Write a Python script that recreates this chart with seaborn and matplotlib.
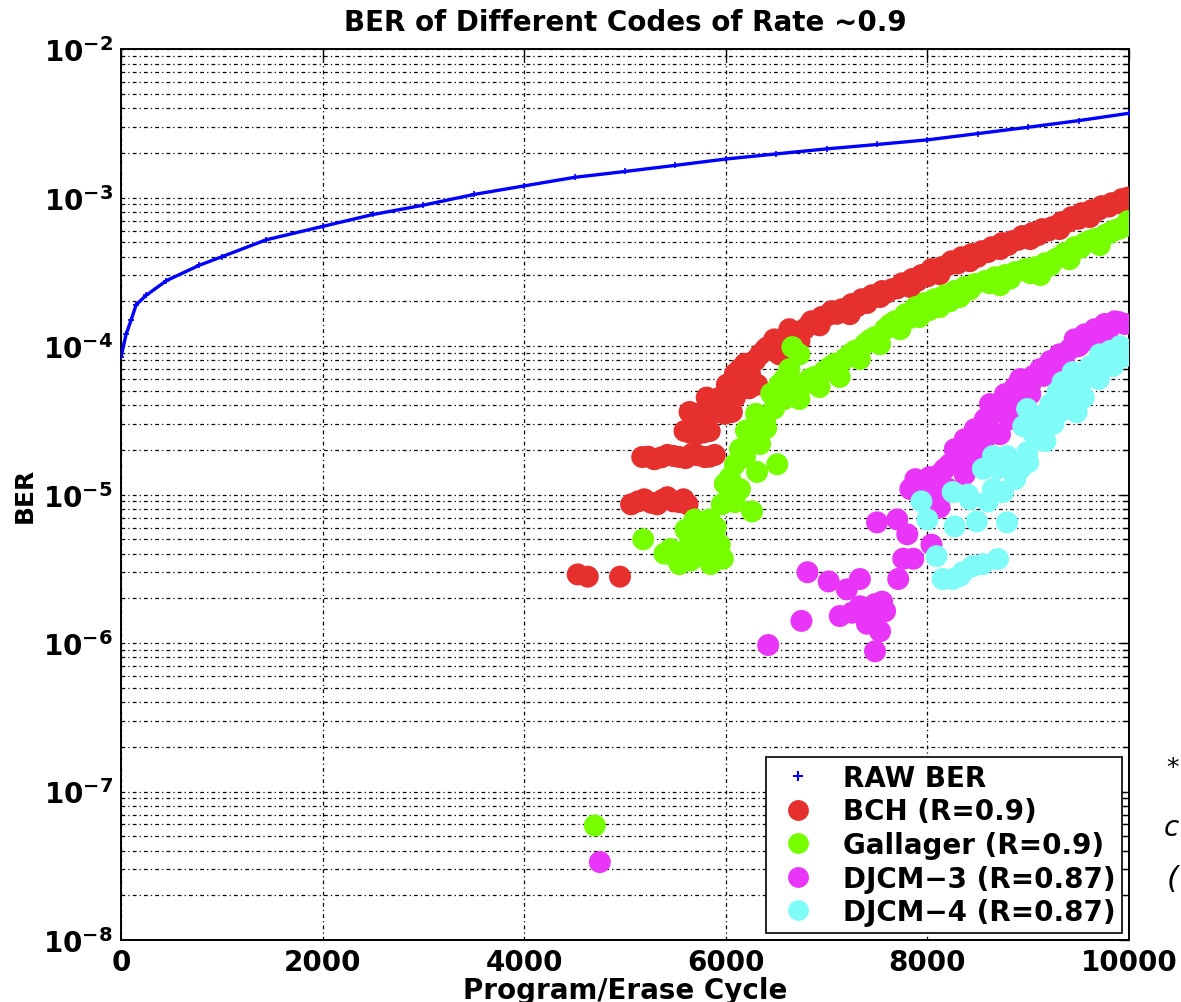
import matplotlib
matplotlib.use("Agg")
import matplotlib.pyplot as plt
import seaborn as sns
import pandas as pd
import numpy as np
from matplotlib.lines import Line2D
from matplotlib.ticker import FixedLocator, FixedFormatter, LogLocator, NullFormatter

# ---------------- data ----------------
raw_cycle = [0, 50, 100, 150, 250, 450, 775, 1000, 1440, 2000, 2500, 3000, 3500,
             4000, 4500, 5000, 5500, 6000, 6500, 7000, 7500, 8000, 8500, 9000, 9500, 10000]
raw_ber = [8.5e-5, 1.2e-4, 1.5e-4, 1.9e-4, 2.2e-4, 2.76e-4, 3.5e-4, 4.0e-4, 5.2e-4, 6.4e-4,
           7.7e-4, 8.9e-4, 1.05e-3, 1.2e-3, 1.37e-3, 1.5e-3, 1.65e-3, 1.82e-3, 1.97e-3,
           2.13e-3, 2.28e-3, 2.45e-3, 2.7e-3, 2.98e-3, 3.3e-3, 3.7e-3]

bch_cycle = [4530, 4630, 4950,
             5060, 5190, 5320, 5420, 5540, 5620, 5130, 5260, 5370, 5480, 5580,
             5170, 5290, 5420, 5540, 5660, 5790, 5890, 5230, 5360, 5480, 5600, 5720, 5840,
             5590, 5710, 5840, 5650, 5780,
             5640, 5790, 5920, 6060, 5720, 5860, 5990,
             5810, 5940, 6090, 5880, 6020,
             6010, 6160, 6310, 6080, 6230,
             6090, 6240, 6190, 6140, 6290,
             6340, 6480, 6630, 6410, 6560,
             6390, 6480, 6580, 6680, 6780, 6850, 6950, 7050, 7150, 7250, 7350, 7450,
             7550, 7650, 7750, 7850, 7940, 8040, 8140, 8240, 8340, 8440, 8540, 8640,
             8740, 8840, 8940, 9040, 9140, 9240, 9330, 9430, 9530, 9630, 9730, 9830,
             9930, 9990,
             6530, 6730, 6930, 7230, 7530, 7830, 8120, 8420, 8720, 9020, 9310, 9610, 9910,
             6630, 6830, 7000, 7100, 7300, 7400, 7600, 7700, 7900, 8000, 8200, 8300,
             8500, 8600, 8800, 8900, 9100, 9200, 9400, 9500, 9700, 9800]
bch_ber = [2.9e-6, 2.8e-6, 2.8e-6,
           8.6e-6, 9.3e-6, 8.6e-6, 9.6e-6, 8.9e-6, 8.6e-6, 9.0e-6, 8.8e-6, 9.2e-6, 9.0e-6, 9.3e-6,
           1.79e-5, 1.73e-5, 1.85e-5, 1.79e-5, 1.87e-5, 1.79e-5, 1.85e-5,
           1.8e-5, 1.78e-5, 1.82e-5, 1.76e-5, 1.84e-5, 1.8e-5,
           2.68e-5, 2.55e-5, 2.68e-5, 2.6e-5, 2.62e-5,
           3.6e-5, 3.6e-5, 3.6e-5, 3.6e-5, 3.5e-5, 3.7e-5, 3.5e-5,
           4.5e-5, 4.5e-5, 4.5e-5, 4.3e-5, 4.7e-5,
           5.5e-5, 5.5e-5, 5.5e-5, 5.8e-5, 5.2e-5,
           6.5e-5, 6.5e-5, 7.6e-5, 7.0e-5, 8.0e-5,
           8.8e-5, 1.03e-4, 1.2e-4, 9.8e-5, 1.12e-4,
           9.5e-5, 1.11e-4, 1.03e-4, 1.24e-4, 1.30e-4, 1.47e-4, 1.57e-4, 1.72e-4,
           1.77e-4, 1.92e-4, 2.07e-4, 2.20e-4, 2.35e-4, 2.42e-4, 2.65e-4, 2.83e-4,
           3.01e-4, 3.30e-4, 3.40e-4, 3.73e-4, 3.97e-4, 4.17e-4, 4.36e-4, 4.64e-4,
           4.94e-4, 5.09e-4, 5.51e-4, 5.77e-4, 6.14e-4, 6.33e-4, 6.84e-4, 7.39e-4,
           7.86e-4, 8.24e-4, 8.77e-4, 9.18e-4, 9.77e-4, 1.0e-3,
           8.8e-5, 1.08e-4, 1.38e-4, 1.64e-4, 2.14e-4, 2.50e-4, 3.05e-4, 3.73e-4,
           4.5e-4, 5.26e-4, 6.14e-4, 7.39e-4, 9.18e-4,
           1.3e-4, 1.4e-4, 1.6e-4, 1.65e-4, 1.85e-4, 1.95e-4, 2.3e-4, 2.45e-4, 2.75e-4,
           2.95e-4, 3.5e-4, 3.6e-4, 4.0e-4, 4.3e-4, 4.8e-4, 5.2e-4, 5.6e-4, 6.0e-4,
           6.9e-4, 7.2e-4, 8.3e-4, 8.7e-4]

gal_cycle = [4700,
             5180, 5390, 5540, 5640, 5740, 5860, 5940, 5970, 5810, 5690, 5840, 5960,
             6090, 6260, 5990, 6140, 6310, 6510, 6090, 6190, 6340, 6140, 6240, 6390,
             6480, 6580, 6530, 6630, 6730, 6660,
             5450, 5600, 5750, 5900, 5650, 5850, 5500, 6040, 6200, 6400, 6300, 6450, 6580,
             6680, 6780, 6730, 6880, 6980, 6930, 7080, 7180, 7130, 7280, 7380, 7330,
             7480, 7580, 7530, 7680, 7780, 7730, 7880, 7970, 7920, 8070, 8170, 8120,
             8270, 8370, 8320, 8470, 8570, 8670, 8770, 8870, 8720, 8970, 9070, 9170,
             9120, 9270, 9360, 9460, 9410, 9560, 9660, 9760, 9710, 9860, 9960, 9990,
             6830, 7030, 7230, 7430, 7630, 7830, 8020, 8220, 8420, 8620, 8820, 9020,
             9220, 9320, 9520, 9610, 9810, 9910]
gal_ber = [5.9e-8,
           5.0e-6, 4.0e-6, 3.4e-6, 4.6e-6, 5.9e-6, 5.4e-6, 4.6e-6, 3.7e-6, 4.0e-6,
           6.8e-6, 6.8e-6, 8.6e-6, 8.9e-6, 7.7e-6, 1.18e-5, 1.09e-5, 1.42e-5, 1.60e-5,
           1.60e-5, 1.79e-5, 2.19e-5, 2.02e-5, 2.36e-5, 3.2e-5, 3.8e-5, 4.4e-5, 5.5e-5,
           7.0e-5, 8.8e-5, 9.85e-5,
           4.3e-6, 5.8e-6, 4.5e-6, 6.0e-6, 3.6e-6, 3.4e-6, 3.8e-6, 1.3e-5, 2.7e-5,
           2.8e-5, 3.5e-5, 4.8e-5, 6.0e-5,
           5.0e-5, 5.55e-5, 4.4e-5, 6.2e-5, 6.8e-5, 5.3e-5, 7.6e-5, 8.2e-5, 6.2e-5,
           9.3e-5, 1.03e-4, 8.2e-5, 1.15e-4, 1.30e-4, 1.03e-4, 1.47e-4, 1.64e-4,
           1.30e-4, 1.83e-4, 1.95e-4, 1.57e-4, 2.07e-4, 2.20e-4, 1.83e-4, 2.35e-4,
           2.50e-4, 2.14e-4, 2.62e-4, 2.74e-4, 2.91e-4, 3.01e-4, 3.15e-4, 2.57e-4,
           3.30e-4, 3.40e-4, 3.62e-4, 3.01e-4, 3.85e-4, 4.23e-4, 4.64e-4, 3.85e-4,
           4.94e-4, 5.26e-4, 5.59e-4, 4.79e-4, 6.04e-4, 6.43e-4, 6.95e-4,
           6.0e-5, 7.2e-5, 8.8e-5, 1.1e-4, 1.4e-4, 1.55e-4, 1.75e-4, 2.0e-4, 2.4e-4,
           2.65e-4, 2.85e-4, 3.1e-4, 3.5e-4, 4.0e-4, 4.6e-4, 5.1e-4, 5.8e-4, 6.2e-4]

dj3_cycle = [4750, 6420, 6750, 7480,
             6810, 7020, 7200, 7330, 7130, 7330, 7480, 7580, 7480, 7530,
             7250, 7400, 7550, 7400,
             7500, 7700, 7800, 8040, 7760, 7860, 7710, 8120, 8070,
             7880, 8020, 8170, 7830, 7970, 8120, 8220, 8270, 8370, 8420, 8370,
             8470, 8570, 8620, 8720, 8770, 8870, 8920, 9020, 9120, 9220, 9310, 9410,
             9460, 9560, 9660, 9760, 9860, 9960, 8720, 8570, 8820, 9020,
             8300, 8450, 8600, 8650, 8800, 8900, 9050, 9150, 9250, 9350, 9500, 9600,
             9700, 9800, 9900, 8950, 8550, 8200, 8000]
dj3_ber = [3.35e-8, 9.7e-7, 1.41e-6, 8.8e-7,
           3.0e-6, 2.6e-6, 2.3e-6, 2.7e-6, 1.52e-6, 1.77e-6, 1.83e-6, 1.64e-6, 1.45e-6, 1.2e-6,
           1.6e-6, 1.65e-6, 1.9e-6, 1.35e-6,
           6.5e-6, 6.8e-6, 5.4e-6, 4.6e-6, 3.7e-6, 3.7e-6, 2.7e-6, 8.2e-6, 9.3e-6,
           1.27e-5, 1.31e-5, 1.49e-5, 1.09e-5, 1.23e-5, 1.37e-5, 1.60e-5, 2.02e-5,
           2.36e-5, 1.73e-5, 1.37e-5,
           2.76e-5, 3.22e-5, 4.07e-5, 3.77e-5, 4.75e-5, 5.30e-5, 6.0e-5, 5.5e-5,
           7.0e-5, 7.93e-5, 8.8e-5, 9.5e-5, 1.11e-4, 1.2e-4, 1.30e-4, 1.41e-4,
           1.47e-4, 1.41e-4, 2.55e-5, 2.36e-5, 3.22e-5, 4.75e-5,
           1.9e-5, 2.2e-5, 2.8e-5, 3.5e-5, 4.2e-5, 4.8e-5, 6.3e-5, 6.3e-5, 7.0e-5,
           8.0e-5, 1.0e-4, 1.1e-4, 1.2e-4, 1.3e-4, 1.45e-4, 5.0e-5, 2.0e-5, 1.1e-5, 1.05e-5]

dj4_cycle = [7940, 8000, 8270, 8490, 8790, 8090, 8150, 8320, 8450, 8700, 8250, 8420,
             8650, 8750, 8550, 8650, 8790, 8920, 9000, 8990, 9170, 8950, 8990, 9150,
             9310, 9480, 9290, 9340, 9510, 9640, 9440, 9780, 9910, 9980, 9840, 9610,
             9710, 9810, 9560, 9360, 9220, 9120, 8870,
             9050, 9250, 9400, 9550, 9700, 9850, 9950, 9400, 9650, 8850, 8700, 8400,
             8600, 8350, 8550, 8250]
dj4_ber = [9.0e-6, 6.8e-6, 6.1e-6, 6.6e-6, 6.5e-6, 3.85e-6, 2.7e-6, 2.83e-6, 3.3e-6,
           3.68e-6, 1.04e-5, 9.3e-6, 1.09e-5, 1.04e-5, 1.49e-5, 1.82e-5, 1.82e-5,
           1.49e-5, 1.65e-5, 1.93e-5, 2.29e-5, 2.89e-5, 3.77e-5, 3.38e-5, 3.59e-5,
           3.59e-5, 4.9e-5, 5.72e-5, 5.13e-5, 6.68e-5, 6.68e-5, 8.17e-5, 1.0e-4,
           9.5e-5, 7.33e-5, 7.3e-5, 8.8e-5, 9.26e-5, 6.0e-5, 4.54e-5, 4.07e-5,
           2.98e-5, 1.27e-5,
           2.6e-5, 3.0e-5, 4.2e-5, 4.5e-5, 6.0e-5, 7.8e-5, 8.5e-5, 5.2e-5, 7.5e-5,
           1.6e-5, 1.5e-5, 1.0e-5, 9.0e-6, 3.0e-6, 3.4e-6, 2.7e-6]

code_names = ["BCH (R=0.9)", "Gallager (R=0.9)", "DJCM\u22123 (R=0.87)", "DJCM\u22124 (R=0.87)"]
code_colors = ["#E5302E", "#77FF00", "#E935F7", "#7FFBF8"]
raw_label = "RAW BER"
raw_color = "#0000FF"

title_text = "BER of Different Codes of Rate ~0.9"
xlabel_text = "Program/Erase Cycle"
ylabel_text = "BER"
xtick_values = [0, 2000, 4000, 6000, 8000, 10000]
ytick_exponents = [-8, -7, -6, -5, -4, -3, -2]
side_fragments = ["*", "c", "("]

# ---------------- build tables ----------------
frames = []
for name, cyc, ber in zip(code_names,
                          [bch_cycle, gal_cycle, dj3_cycle, dj4_cycle],
                          [bch_ber, gal_ber, dj3_ber, dj4_ber]):
    frames.append(pd.DataFrame({"cycle": cyc, "ber": ber, "code": name}))
df = pd.concat(frames, ignore_index=True)
raw_df = pd.DataFrame({"cycle": raw_cycle, "ber": raw_ber})

# ---------------- plot ----------------
sns.set_style("white")
plt.rcParams["font.family"] = ["DejaVu Sans"]
plt.rcParams["mathtext.fontset"] = "dejavusans"
for key in ["text.color", "axes.labelcolor", "xtick.color", "ytick.color"]:
    plt.rcParams[key] = "black"

fig = plt.figure(figsize=(11.81, 10.03), dpi=100)
ax = fig.add_axes([0.1025, 0.0618, 0.8535, 0.8882])

sns.lineplot(data=raw_df, x="cycle", y="ber", color=raw_color, lw=2.4,
             marker="+", markersize=5, markeredgewidth=1.2,
             markeredgecolor=raw_color, ax=ax, zorder=3)

for name, col in zip(code_names, code_colors):
    sub = df[df["code"] == name]
    sns.scatterplot(data=sub, x="cycle", y="ber", color=col, s=250,
                    edgecolor="none", linewidth=0, ax=ax, zorder=4)

ax.set_yscale("log")
ax.set_xlim(0, 10000)
ax.set_ylim(1e-8, 1e-2)

ax.xaxis.set_major_locator(FixedLocator(xtick_values))
ax.set_xticklabels([str(v) for v in xtick_values])
ax.yaxis.set_major_locator(FixedLocator([10.0 ** e for e in ytick_exponents]))
ax.yaxis.set_major_formatter(FixedFormatter(
    [r"$\mathbf{10^{%d}}$" % e for e in ytick_exponents]))
ax.yaxis.set_minor_locator(LogLocator(base=10, subs=np.arange(2, 10), numticks=50))
ax.yaxis.set_minor_formatter(NullFormatter())

gls = (0, (3, 2.5, 1, 2.5))
ax.grid(which="major", axis="both", color="black", linestyle=gls, linewidth=0.9)
ax.grid(which="minor", axis="y", color="black", linestyle=gls, linewidth=0.9)
ax.set_axisbelow(True)

ax.tick_params(which="both", direction="in", top=True, right=True, width=1.0,
               colors="black")
ax.tick_params(which="major", length=7, labelsize=20, pad=6)
ax.tick_params(which="minor", length=4)
for lab in ax.get_xticklabels():
    lab.set_fontweight("bold")
for sp in ax.spines.values():
    sp.set_visible(True)
    sp.set_color("black")
    sp.set_linewidth(1.4)

ax.set_title(title_text, fontsize=20, fontweight="bold", pad=14, color="black")
ax.set_xlabel(xlabel_text, fontsize=20, fontweight="bold", labelpad=0)
ax.set_ylabel(ylabel_text, fontsize=18, fontweight="bold", labelpad=4)

handles = [Line2D([], [], color=raw_color, marker="+", linestyle="none",
                  markersize=7, markeredgewidth=1.5)]
for col in code_colors:
    handles.append(Line2D([], [], color=col, marker="o", linestyle="none",
                          markersize=15, markeredgewidth=0))
leg = ax.legend(handles, [raw_label] + code_names, loc="lower right",
                prop={"weight": "bold", "size": 20}, frameon=True, fancybox=False,
                framealpha=1, edgecolor="black", borderaxespad=0.25,
                borderpad=0.25, labelspacing=0.2, handlelength=1.8,
                handletextpad=0.7)
leg.get_frame().set_linewidth(1.2)
leg.set_zorder(10)

# text fragments at the right edge of the slide
for txt, ypx, fs in zip(side_fragments, [768, 828, 880], [18, 20, 22]):
    fig.text(1179 / 1181, 1 - ypx / 1003, txt, fontsize=fs, style="italic",
             va="center", ha="right")

fig.savefig("out.png", dpi=100, facecolor="white")
